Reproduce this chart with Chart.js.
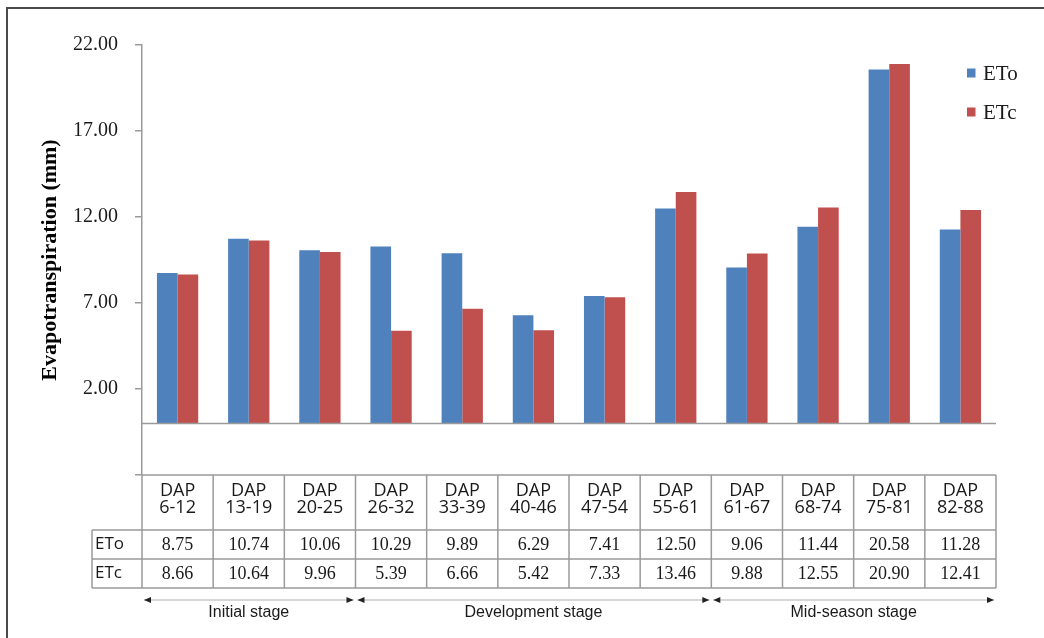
<!DOCTYPE html>
<html>
<head>
<meta charset="utf-8">
<script src="https://cdn.jsdelivr.net/npm/chart.js@4.4.1/dist/chart.umd.min.js"></script>
<style>
  html, body { margin: 0; padding: 0; background: #fff; }
  #wrap { position: relative; width: 1044px; height: 638px; }
</style>
</head>
<body>
<div id="wrap"><canvas id="chart" width="1044" height="638"></canvas></div>
<script>
// periods in days after planting, two lines per column header
const periods = [
  ['DAP','6-12'], ['DAP','13-19'], ['DAP','20-25'], ['DAP','26-32'],
  ['DAP','33-39'], ['DAP','40-46'], ['DAP','47-54'], ['DAP','55-61'],
  ['DAP','61-67'], ['DAP','68-74'], ['DAP','75-81'], ['DAP','82-88']
];
const eto = [8.75, 10.74, 10.06, 10.29, 9.89, 6.29, 7.41, 12.50, 9.06, 11.44, 20.58, 11.28];
const etc = [8.66, 10.64, 9.96, 5.39, 6.66, 5.42, 7.33, 13.46, 9.88, 12.55, 20.90, 12.41];
const stages = ['Initial stage', 'Development stage', 'Mid-season stage'];
const stageCols = [3, 5, 4];
const yMin = -3, yMax = 22, yStep = 5;

const BLUE = '#4f81bd', RED = '#c0504d', LINE = '#9a9a9a';
const SERIF = '"Liberation Serif", "Times New Roman", serif';
const SANS = '"Open Sans", "Noto Sans", sans-serif';

const dataTable = {
  id: 'dataTable',
  afterDatasetsDraw(chart){
    const {ctx, chartArea: a, scales: {y}} = chart;
    const y0 = y.getPixelForValue(0);
    ctx.save();
    ctx.strokeStyle = LINE; ctx.lineWidth = 1.5;
    ctx.beginPath(); ctx.moveTo(a.left, y0); ctx.lineTo(a.right, y0); ctx.stroke();
    ctx.restore();
  },
  afterDraw(chart){
    const {ctx, chartArea: a, scales: {x}} = chart;
    const colW = x.getPixelForValue(1) - x.getPixelForValue(0);
    const edge = (i) => x.getPixelForValue(i) - colW / 2;
    const top = a.bottom, headB = top + 55, row1B = headB + 29, row2B = row1B + 29;
    const labL = 92;

    ctx.save();
    // grid of the table
    ctx.strokeStyle = LINE; ctx.lineWidth = 1.5;
    ctx.beginPath();
    ctx.moveTo(a.left, top); ctx.lineTo(a.right, top);
    for (const yy of [headB, row1B, row2B]) { ctx.moveTo(labL, yy); ctx.lineTo(a.right, yy); }
    ctx.moveTo(labL, headB); ctx.lineTo(labL, row2B);
    for (let i = 0; i <= periods.length; i++) {
      ctx.moveTo(edge(i), top); ctx.lineTo(edge(i), row2B);
    }
    ctx.stroke();

    ctx.fillStyle = '#1a1a1a';
    ctx.textBaseline = 'middle';
    ctx.textAlign = 'center';
    ctx.font = '18px ' + SANS;
    periods.forEach((p, i) => {
      const cx = x.getPixelForValue(i);
      ctx.fillText(p[0], cx, top + 16);
      ctx.fillText(p[1], cx, top + 33);
    });
    ctx.font = '18px ' + SERIF;
    eto.forEach((v, i) => ctx.fillText(v.toFixed(2), x.getPixelForValue(i), headB + 15));
    etc.forEach((v, i) => ctx.fillText(v.toFixed(2), x.getPixelForValue(i), row1B + 15));
    ctx.textAlign = 'left';
    ctx.font = '17px ' + SANS;
    ctx.fillText('ETo', labL + 3, headB + 14);
    ctx.fillText('ETc', labL + 3, row1B + 14);

    // growth stage arrows
    const ay = row2B + 12;
    let c = 0;
    ctx.font = '16px "Liberation Sans", Arial, sans-serif';
    ctx.textAlign = 'center';
    stages.forEach((s, k) => {
      const l = edge(c), r = edge(c + stageCols[k]);
      c += stageCols[k];
      ctx.strokeStyle = '#b0b0b0'; ctx.lineWidth = 1;
      ctx.beginPath(); ctx.moveTo(l + 2, ay); ctx.lineTo(r - 2, ay); ctx.stroke();
      ctx.fillStyle = '#222';
      ctx.beginPath(); ctx.moveTo(l + 2, ay); ctx.lineTo(l + 9, ay - 3); ctx.lineTo(l + 9, ay + 3); ctx.fill();
      ctx.beginPath(); ctx.moveTo(r - 2, ay); ctx.lineTo(r - 9, ay - 3); ctx.lineTo(r - 9, ay + 3); ctx.fill();
      ctx.fillStyle = '#1a1a1a';
      ctx.fillText(s, (l + r) / 2, ay + 13);
    });

    // legend
    ctx.font = '21px ' + SERIF;
    ctx.textAlign = 'left';
    chart.data.datasets.forEach((ds, i) => {
      const ly = 73 + i * 39;
      ctx.fillStyle = ds.backgroundColor;
      ctx.fillRect(967, ly - 4.5, 8.5, 9);
      ctx.fillStyle = '#1a1a1a';
      ctx.fillText(ds.label, 983, ly + 1);
    });

    // outer frame
    ctx.strokeStyle = '#4a4a4a'; ctx.lineWidth = 2;
    ctx.beginPath(); ctx.moveTo(7, 638); ctx.lineTo(7, 8); ctx.lineTo(1044, 8); ctx.stroke();
    ctx.restore();
  }
};

new Chart(document.getElementById('chart'), {
  type: 'bar',
  data: {
    labels: periods.map(p => p.join(' ')),
    datasets: [
      { label: 'ETo', data: eto, backgroundColor: BLUE },
      { label: 'ETc', data: etc, backgroundColor: RED }
    ]
  },
  options: {
    responsive: false,
    animation: false,
    events: [],
    categoryPercentage: 0.58,
    barPercentage: 1.0,
    layout: { padding: { left: 7, top: 45, right: 48, bottom: 163 } },
    plugins: { legend: { display: false }, tooltip: { enabled: false } },
    scales: {
      x: { display: false },
      y: {
        min: yMin, max: yMax,
        afterFit(scale){ scale.width = 135; },
        ticks: {
          stepSize: yStep,
          padding: 17,
          color: '#1a1a1a',
          font: { family: SERIF, size: 20 },
          callback: (v) => v < 0 ? '' : Number(v).toFixed(2)
        },
        grid: { drawOnChartArea: false, drawTicks: true, tickLength: 7, color: LINE, lineWidth: 1.5 },
        border: { display: true, color: LINE, width: 1.5 },
        title: {
          display: true,
          text: 'Evapotranspiration (mm)',
          color: '#000',
          font: { family: SERIF, size: 22, weight: 'bold' },
          padding: { top: 30, bottom: 0 }
        }
      }
    }
  },
  plugins: [dataTable]
});
</script>
</body>
</html>
